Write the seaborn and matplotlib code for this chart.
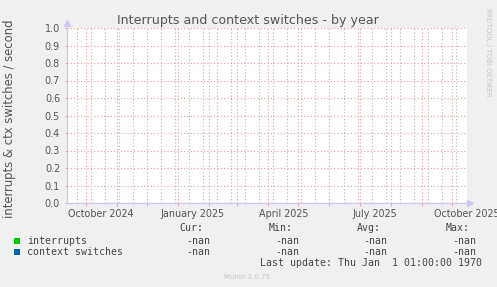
import numpy as np
import pandas as pd
import matplotlib
matplotlib.use("Agg")
import matplotlib.pyplot as plt
import matplotlib.dates as mdates
from matplotlib.patches import Rectangle
import seaborn as sns

# ---- data -------------------------------------------------------------
title = "Interrupts and context switches - by year"
ylabel = "interrupts & ctx switches / second"
series_names = ["interrupts", "context switches"]
series_colors = ["#00cc00", "#0066b3"]
sample_dates = pd.date_range("2024-09-13", "2025-10-15", freq="D")
interrupts = np.full(len(sample_dates), np.nan)
context_switches = np.full(len(sample_dates), np.nan)
stat_headers = ["Cur:", "Min:", "Avg:", "Max:"]
interrupts_stats = ["-nan", "-nan", "-nan", "-nan"]
context_switches_stats = ["-nan", "-nan", "-nan", "-nan"]
y_ticks = [0.0, 0.1, 0.2, 0.3, 0.4, 0.5, 0.6, 0.7, 0.8, 0.9, 1.0]
x_label_dates = ["2024-10-16", "2025-01-16", "2025-04-16", "2025-07-16", "2025-10-16"]
x_label_texts = ["October 2024", "January 2025", "April 2025", "July 2025", "October 2025"]
x_start, x_end = pd.Timestamp("2024-09-12 12:00"), pd.Timestamp("2025-10-16 00:00")
last_update = "Last update: Thu Jan  1 01:00:00 1970"
footer = "Munin 2.0.75"
side_text = "RRDTOOL / TOBI OETIKER"

# ---- figure -------------------------------------------------------------
sns.set_theme(style="white")
plt.rcParams["font.family"] = ["DejaVu Sans"]
W, H = 497, 287
fig = plt.figure(figsize=(W / 100, H / 100), dpi=100, facecolor="#f0f0f0")


def fx(x):
    return x / W


def fy(y):
    return 1 - y / H


L, R, T, B = 67, 467, 28, 203
ax = fig.add_axes([fx(L), fy(B), (R - L) / W, (B - T) / H])
ax.set_facecolor("white")

df = pd.DataFrame({"date": np.concatenate([sample_dates, sample_dates]),
                   "value": np.concatenate([interrupts, context_switches]),
                   "series": [series_names[0]] * len(sample_dates) + [series_names[1]] * len(sample_dates)})
sns.lineplot(data=df, x="date", y="value", hue="series", palette=series_colors,
             ax=ax, legend=False, linewidth=1)

ax.set_xlim(x_start, x_end)
ax.set_ylim(0, 1)
ax.set_xlabel("")
ax.set_ylabel("")

# grid: month starts (major, red) and fortnightly Sundays (minor, grey)
month_starts = pd.date_range("2024-09-01", "2025-11-01", freq="MS")
fortnights = pd.date_range("2024-09-08", "2025-10-31", freq="14D")
ax.set_xticks(mdates.date2num(month_starts))
ax.set_xticks(mdates.date2num(fortnights), minor=True)
ax.set_xlim(x_start, x_end)
ax.xaxis.set_major_formatter(plt.NullFormatter())
ax.xaxis.set_minor_formatter(plt.NullFormatter())
ax.set_yticks(y_ticks)
ax.set_yticklabels([f"{v:.1f}" for v in y_ticks])

red = "#e4a0a0"
grey = "#b4b4b4"
ax.grid(False)
ax.xaxis.grid(True, which="minor", color=grey, linestyle=(0, (1, 2)), linewidth=0.8)
ax.xaxis.grid(True, which="major", color=red, linestyle=(0, (1, 2)), linewidth=0.8)
ax.yaxis.grid(True, which="major", color=red, linestyle=(0, (1, 2)), linewidth=0.8)
ax.set_axisbelow(True)

ax.tick_params(axis="x", which="major", direction="out", length=2.2, width=0.7,
               color=red, bottom=True)
ax.tick_params(axis="x", which="minor", length=0, bottom=True)
ax.tick_params(axis="y", which="major", direction="out", length=1.4, width=0.7,
               color=red, left=True, pad=3.6, labelsize=6.9, labelcolor="#555555")

axis_col = "#c8c8f2"
for side in ["top", "right"]:
    ax.spines[side].set_visible(False)
for side in ["left", "bottom"]:
    ax.spines[side].set_color(axis_col)
    ax.spines[side].set_linewidth(0.9)

# axis arrows
ax.plot([0], [1.0 + 4.5 / (B - T)], marker="^", markersize=4.5, color=axis_col,
        transform=ax.transAxes, clip_on=False)
ax.plot([1.0 + 3 / (R - L)], [0], marker=">", markersize=4.5, color=axis_col,
        transform=ax.transAxes, clip_on=False)

# month labels centred mid-month
for d, t in zip(x_label_dates, x_label_texts):
    xpix = L + (pd.Timestamp(d) - x_start) / (x_end - x_start) * (R - L)
    fig.text(fx(xpix), fy(216.7), t, ha="center", va="baseline",
             fontsize=6.9, color="#555555")

# titles
fig.text(fx(248.3), fy(24.3), title, ha="center", va="baseline",
         fontsize=9.1, color="#555555")
fig.text(fx(10), fy(118.5), ylabel, ha="center", va="center", rotation=90,
         fontsize=8.4, color="#555555")
fig.text(fx(488), fy(52), side_text, ha="center", va="center", rotation=270,
         fontsize=5.0, color="#c4c4c4")

# legend block
mono = "DejaVu Sans Mono"
ms = 7.1
tc = "#444444"
header_right = [203, 292.7, 381, 470]
value_right = [210.7, 299.3, 387.7, 476.7]
for h, xr in zip(stat_headers, header_right):
    fig.text(fx(xr), fy(228), h, ha="right", va="center", family=mono, fontsize=ms, color=tc)
rows = [(series_names[0], series_colors[0], interrupts_stats, 240.5),
        (series_names[1], series_colors[1], context_switches_stats, 252)]
for name, col, stats, yc in rows:
    fig.patches.append(Rectangle((fx(14), fy(yc + 3)), 6 / W, 6 / H,
                                 transform=fig.transFigure, facecolor=col, edgecolor="none"))
    fig.text(fx(26.7), fy(yc), name, ha="left", va="center", family=mono, fontsize=ms, color=tc)
    for s, xr in zip(stats, value_right):
        fig.text(fx(xr), fy(yc), s, ha="right", va="center", family=mono, fontsize=ms, color=tc)
fig.text(fx(482.3), fy(263.3), last_update, ha="right", va="center", family=mono,
         fontsize=ms, color=tc)
fig.text(fx(247.5), fy(277), footer, ha="center", va="center", fontsize=5.0, color="#c4c4c4")

fig.savefig("out.png", dpi=100, facecolor=fig.get_facecolor())
